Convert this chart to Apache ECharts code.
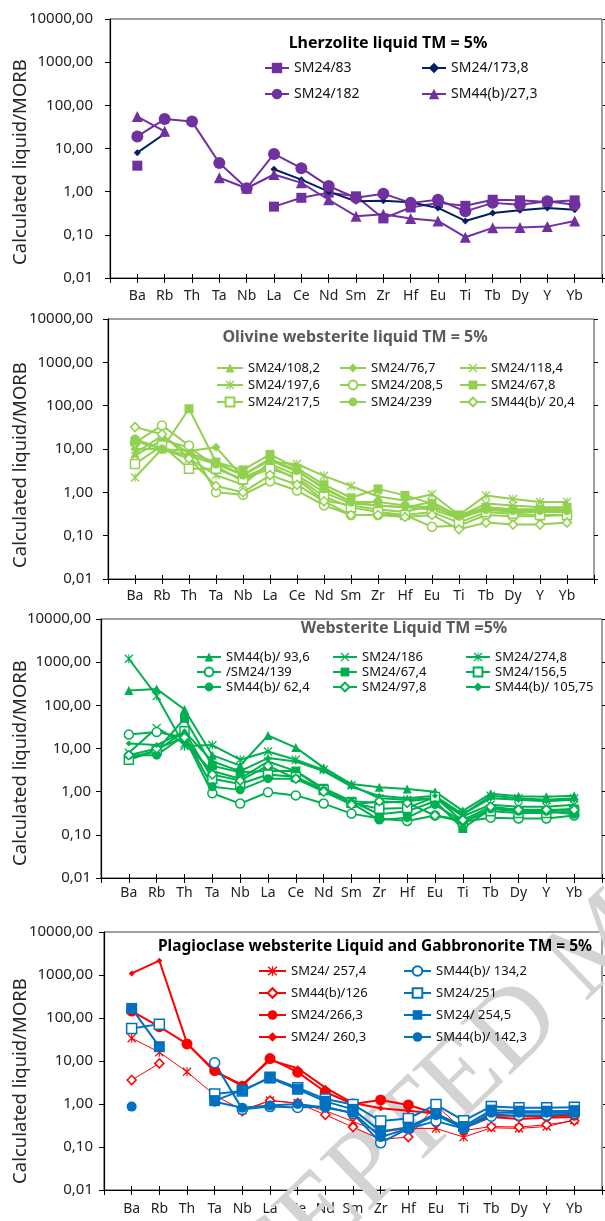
<!DOCTYPE html>
<html><head><meta charset="utf-8">
<script src="https://cdn.jsdelivr.net/npm/echarts@6/dist/echarts.min.js"></script>
<style>html,body{margin:0;padding:0;background:#fff}#c{width:605px;height:1221px}</style>
</head><body><div id="c"></div>
<script>
// ---------------- data ----------------
const ELEMENTS = ['Ba','Rb','Th','Ta','Nb','La','Ce','Nd','Sm','Zr','Hf','Eu','Ti','Tb','Dy','Y','Yb'];
const Y_TICK_LABELS = ['0,01','0,10','1,00','10,00','100,00','1000,00','10000,00'];
const Y_NAME = 'Calculated liquid/MORB';
const TITLES = ['Lherzolite liquid TM = 5%','Olivine websterite liquid TM = 5%','Websterite Liquid TM =5%','Plagioclase websterite Liquid and Gabbronorite TM = 5%'];
const WATERMARK = 'ACCEPTED MANUSCRIPT';

// Panel 1 : Lherzolite
const LHZ_NAMES = ['SM24/83','SM24/173,8','SM24/182','SM44(b)/27,3'];
const LHZ_SM24_83    = [4, null, null, null, null, 0.45, 0.72, 0.95, 0.78, 0.24, 0.43, 0.55, 0.47, 0.65, 0.63, 0.58, 0.63];
const LHZ_SM24_173_8 = [8, 22, null, null, null, 3.3, 1.9, 1.0, 0.6, 0.62, 0.57, 0.42, 0.21, 0.32, 0.37, 0.42, 0.38];
const LHZ_SM24_182   = [19, 48, 42, 4.6, 1.2, 7.5, 3.5, 1.35, 0.72, 0.9, 0.55, 0.65, 0.35, 0.55, 0.5, 0.6, 0.5];
const LHZ_SM44B_27_3 = [55, 25, null, 2.1, 1.2, 2.5, 1.6, 0.65, 0.27, 0.3, 0.24, 0.21, 0.088, 0.145, 0.148, 0.155, 0.21];

// Panel 2 : Olivine websterite
const OWS_NAMES = ['SM24/108,2','SM24/76,7','SM24/118,4','SM24/197,6','SM24/208,5','SM24/67,8','SM24/217,5','SM24/239','SM44(b)/ 20,4'];
const OWS_SM24_108_2 = [8, 20, 8, 5, 2.5, 5.5, 3, 1.3, 0.6, 0.5, 0.45, 0.4, 0.25, 0.45, 0.4, 0.4, 0.4];
const OWS_SM24_76_7  = [10, 10, 9, 11, 2.2, 4, 2, 0.65, 0.5, 0.4, 0.35, 0.5, 0.25, 0.4, 0.35, 0.35, 0.35];
const OWS_SM24_118_4 = [7, 16, 11, 4, 1.8, 4.5, 2.5, 1.0, 0.55, 0.5, 0.45, 0.6, 0.28, 0.55, 0.5, 0.45, 0.45];
const OWS_SM24_197_6 = [2.2, 10, 6, 2.5, 1.5, 5, 4.5, 2.4, 1.4, 0.8, 0.65, 0.9, 0.3, 0.85, 0.7, 0.6, 0.6];
const OWS_SM24_208_5 = [14, 35, 12, 1.0, 0.88, 1.8, 1.1, 0.5, 0.3, 0.3, 0.3, 0.16, 0.17, 0.3, 0.28, 0.28, 0.3];
const OWS_SM24_67_8  = [15, 10, 85, 5, 3.3, 7.5, 3.6, 1.5, 0.75, 1.2, 0.85, 0.55, 0.3, 0.45, 0.4, 0.4, 0.45];
const OWS_SM24_217_5 = [4.5, 12, 3.5, 3.5, 2.0, 3.5, 2.2, 0.8, 0.45, 0.35, 0.3, 0.35, 0.2, 0.35, 0.32, 0.3, 0.3];
const OWS_SM24_239   = [17, 10, 7, 4.5, 2.5, 6, 3.2, 1.2, 0.6, 0.6, 0.5, 0.45, 0.28, 0.4, 0.38, 0.38, 0.38];
const OWS_SM44B_20_4 = [32, 22, 6, 1.4, 1.0, 2.5, 1.5, 0.62, 0.3, 0.3, 0.27, 0.3, 0.14, 0.2, 0.18, 0.18, 0.2];

// Panel 3 : Websterite
const WS_NAMES = ['SM44(b)/ 93,6','SM24/186','SM24/274,8','/SM24/139','SM24/67,4','SM24/156,5','SM44(b)/ 62,4','SM24/97,8','SM44(b)/ 105,75'];
const WS_SM44B_93_6   = [220, 240, 80, 7, 4, 20, 10.5, 3.6, 1.5, 1.27, 1.15, 1.0, 0.36, 0.9, 0.78, 0.76, 0.8];
const WS_SM24_186     = [8, 30, 13, 3, 2, 5, 3, 1.1, 0.6, 0.55, 0.6, 0.7, 0.27, 0.5, 0.45, 0.45, 0.5];
const WS_SM24_274_8   = [1200, 165, 11.5, 12, 5.5, 8.5, 5.5, 3.2, 1.4, 0.7, 0.65, 0.7, 0.3, 0.8, 0.7, 0.65, 0.7];
const WS_SM24_139     = [21, 24, 18, 0.92, 0.53, 0.97, 0.82, 0.53, 0.31, 0.24, 0.21, 0.28, 0.2, 0.25, 0.24, 0.24, 0.28];
const WS_SM24_67_4    = [6, 9, 50, 4, 2.8, 3, 3, 1.2, 0.6, 0.3, 0.35, 0.6, 0.14, 0.4, 0.36, 0.36, 0.4];
const WS_SM24_156_5   = [5.5, 9, 25, 2, 1.5, 2.5, 2.2, 1.1, 0.55, 0.4, 0.42, 0.75, 0.2, 0.35, 0.32, 0.32, 0.35];
const WS_SM44B_62_4   = [7, 7, 20, 1.3, 1.1, 2, 2, 1.05, 0.55, 0.22, 0.25, 0.5, 0.2, 0.4, 0.35, 0.35, 0.3];
const WS_SM24_97_8    = [7, 10, 18, 2.5, 1.8, 4, 2, 1.0, 0.5, 0.6, 0.55, 0.28, 0.22, 0.45, 0.38, 0.38, 0.38];
const WS_SM44B_105_75 = [13, 12, 25, 5, 3, 6, 5, 3, 1.3, 0.8, 0.7, 0.8, 0.3, 0.7, 0.65, 0.6, 0.65];

// Panel 4 : Plagioclase websterite and Gabbronorite
const PWG_NAMES = ['SM24/ 257,4','SM44(b)/126','SM24/266,3','SM24/ 260,3','SM44(b)/ 134,2','SM24/251','SM24/ 254,5','SM44(b)/ 142,3'];
const PWG_SM24_257_4  = [34, 16, 5.6, 1.6, 0.72, 1.2, 1.05, 0.7, 0.39, 0.22, 0.27, 0.27, 0.17, 0.28, 0.27, 0.3, 0.42];
const PWG_SM44B_126   = [3.6, 8.8, null, null, 0.68, 1.2, 1.05, 0.56, 0.29, 0.15, 0.17, 0.95, 0.24, 0.3, 0.29, 0.33, 0.41];
const PWG_SM24_266_3  = [145, 63, 25, 6, 2.6, 11.4, 5.5, 1.9, 1.0, 1.24, 0.95, 0.6, 0.27, 0.58, 0.52, 0.52, 0.55];
const PWG_SM24_260_3  = [1090, 2150, 26, 5.6, 2.8, 10.5, 6.8, 2.4, 1.05, 0.8, 0.7, 0.6, 0.28, 0.5, 0.45, 0.48, 0.5];
const PWG_SM44B_134_2 = [null, null, null, 9.1, 0.75, 0.87, 0.83, 0.87, 0.6, 0.125, 0.27, 0.4, 0.27, 0.52, 0.55, 0.55, 0.6];
const PWG_SM24_251    = [57, 72, null, 1.7, 2.0, 4.2, 2.4, 1.3, 0.97, 0.4, 0.46, 0.97, 0.41, 0.88, 0.82, 0.82, 0.84];
const PWG_SM24_254_5  = [167, 21.5, null, 1.2, 2.1, 4.0, 2.2, 1.15, 0.75, 0.23, 0.29, 0.6, 0.3, 0.72, 0.68, 0.68, 0.7];
const PWG_SM44B_142_3 = [0.87, null, null, 1.13, 0.82, 0.92, 1.0, 0.82, 0.63, 0.17, 0.27, 0.55, 0.27, 0.63, 0.63, 0.63, 0.63];

// ---------------- styling / layout ----------------
const FONT = 'Noto Sans';
const PURPLE = '#7030A0', NAVY = '#002060', LGREEN = '#92D050', GREEN = '#00B050', RED = '#FF0000', BLUE = '#0070C0';
const X_PATH = 'path://M0,1L1,0L5,4L9,0L10,1L6,5L10,9L9,10L5,6L1,10L0,9L4,5Z';
const STAR_PATH = 'path://M0,1L1,0L5,4L9,0L10,1L6,5L10,9L9,10L5,6L1,10L0,9L4,5Z M4.4,0L5.6,0L5.6,10L4.4,10Z';
const SYM = {sq:'rect', osq:'rect', ci:'circle', oci:'circle', tri:'triangle', dia:'diamond', odia:'diamond', x:X_PATH, star:STAR_PATH};

const PANELS = [
  {grid:{left:110, top:19, width:493, height:259}, labelMargin:11, yMargin:17, titleXY:[388,43], titleColor:'#000', titleSize:16, nameY:162,
   legend:{cols:[[264,[0,2]],[421,[1,3]]], rows:[68,94], w:24, h:13, fs:14}},
  {grid:{left:108, top:319, width:486, height:260}, labelMargin:10, yMargin:15, titleXY:[355,337], titleColor:'#595959', titleSize:16, nameY:465,
   legend:{cols:[[216,[0,3,6]],[339,[1,4,7]],[459,[2,5,8]]], rows:[368,385,402], w:26, h:11, fs:13}},
  {grid:{left:101, top:619, width:501, height:259}, labelMargin:8, yMargin:10, titleXY:[404,628], titleColor:'#595959', titleSize:16, nameY:763,
   legend:{cols:[[196,[0,3,6]],[332,[1,4,7]],[465,[2,5,8]]], rows:[657,672,687], w:24, h:11, fs:13}},
  {grid:{left:104, top:932, width:499, height:258}, labelMargin:12, yMargin:11, titleXY:[375,947], titleColor:'#000', titleSize:15.5, nameY:1081,
   legend:{cols:[[258,[0,1,2,3]],[403,[4,5,6,7]]], rows:[971,993,1015,1037], w:27, h:12, fs:13}}
];

function mk(name, vals, p, color, kind, size, lw) {
  const open = kind.charAt(0) === 'o';
  return {
    type:'line', name:name, xAxisIndex:p, yAxisIndex:p,
    data: vals.map((v, i) => [i + 1, v]),
    symbol: SYM[kind], symbolSize: size, connectNulls:false,
    lineStyle:{color:color, width:lw},
    itemStyle:{color: open ? '#fff' : color, borderColor: color, borderWidth: open ? 1.5 : 0},
    emphasis:{disabled:true}, silent:true, z:3
  };
}

const SERIES = [
  [ mk(LHZ_NAMES[0], LHZ_SM24_83, 0, PURPLE, 'sq', 10, 2),
    mk(LHZ_NAMES[1], LHZ_SM24_173_8, 0, NAVY, 'dia', 7, 2),
    mk(LHZ_NAMES[2], LHZ_SM24_182, 0, PURPLE, 'ci', 12, 2),
    mk(LHZ_NAMES[3], LHZ_SM44B_27_3, 0, PURPLE, 'tri', 11, 2) ],
  [ mk(OWS_NAMES[0], OWS_SM24_108_2, 1, LGREEN, 'tri', 9, 2),
    mk(OWS_NAMES[1], OWS_SM24_76_7, 1, LGREEN, 'dia', 9, 2),
    mk(OWS_NAMES[2], OWS_SM24_118_4, 1, LGREEN, 'x', 9, 2),
    mk(OWS_NAMES[3], OWS_SM24_197_6, 1, LGREEN, 'star', 9, 2),
    mk(OWS_NAMES[4], OWS_SM24_208_5, 1, LGREEN, 'oci', 9, 2),
    mk(OWS_NAMES[5], OWS_SM24_67_8, 1, LGREEN, 'sq', 9, 2),
    mk(OWS_NAMES[6], OWS_SM24_217_5, 1, LGREEN, 'osq', 9, 2),
    mk(OWS_NAMES[7], OWS_SM24_239, 1, LGREEN, 'ci', 9, 2),
    mk(OWS_NAMES[8], OWS_SM44B_20_4, 1, LGREEN, 'odia', 9, 2) ],
  [ mk(WS_NAMES[0], WS_SM44B_93_6, 2, GREEN, 'tri', 9, 2),
    mk(WS_NAMES[1], WS_SM24_186, 2, GREEN, 'x', 9, 2),
    mk(WS_NAMES[2], WS_SM24_274_8, 2, GREEN, 'star', 9, 2),
    mk(WS_NAMES[3], WS_SM24_139, 2, GREEN, 'oci', 9, 2),
    mk(WS_NAMES[4], WS_SM24_67_4, 2, GREEN, 'sq', 9, 2),
    mk(WS_NAMES[5], WS_SM24_156_5, 2, GREEN, 'osq', 9, 2),
    mk(WS_NAMES[6], WS_SM44B_62_4, 2, GREEN, 'ci', 9, 2),
    mk(WS_NAMES[7], WS_SM24_97_8, 2, GREEN, 'odia', 9, 2),
    mk(WS_NAMES[8], WS_SM44B_105_75, 2, GREEN, 'dia', 6, 2) ],
  [ mk(PWG_NAMES[0], PWG_SM24_257_4, 3, RED, 'star', 9, 1),
    mk(PWG_NAMES[1], PWG_SM44B_126, 3, RED, 'odia', 9, 1),
    mk(PWG_NAMES[2], PWG_SM24_266_3, 3, RED, 'ci', 11, 2),
    mk(PWG_NAMES[3], PWG_SM24_260_3, 3, RED, 'dia', 6, 2),
    mk(PWG_NAMES[4], PWG_SM44B_134_2, 3, BLUE, 'oci', 10, 2),
    mk(PWG_NAMES[5], PWG_SM24_251, 3, BLUE, 'osq', 10, 2),
    mk(PWG_NAMES[6], PWG_SM24_254_5, 3, BLUE, 'sq', 11, 2),
    mk(PWG_NAMES[7], PWG_SM44B_142_3, 3, BLUE, 'ci', 10, 2) ]
];

const grids = [], xAxes = [], yAxes = [], xInner = [], yInner = [], legends = [], graphics = [];
PANELS.forEach((P, p) => {
  grids.push(Object.assign({show:true, borderColor:'#404040', borderWidth:1}, P.grid));
  xAxes.push({
    type:'value', gridIndex:p, min:0, max:18, interval:1,
    axisLine:{show:true, onZero:false, lineStyle:{color:'#000', width:1.2}},
    axisTick:{show:true, length:5, lineStyle:{color:'#000', width:1}},
    axisLabel:{margin:P.labelMargin, color:'#222', fontFamily:FONT, fontSize:14,
               formatter: v => ELEMENTS[Math.round(v) - 1] || ''},
    splitLine:{show:false}
  });
  yAxes.push({
    type:'log', gridIndex:p, min:0.01, max:10000, logBase:10, splitNumber:6,
    axisLine:{show:true, lineStyle:{color:'#000', width:1.2}},
    axisTick:{show:true, length:5, lineStyle:{color:'#000', width:1}},
    axisLabel:{margin:P.yMargin, color:'#222', fontFamily:FONT, fontSize:15,
               formatter: v => Y_TICK_LABELS[Math.round(Math.log10(v)) + 2]},
    splitLine:{show:false}, minorTick:{show:false}
  });
  // inner halves of the crossing tick marks (same scales, drawn on the opposite side)
  xInner.push({
    type:'value', gridIndex:p, min:0, max:18, interval:1, position:'top', offset:-P.grid.height,
    axisLine:{show:false}, axisLabel:{show:false}, splitLine:{show:false},
    axisTick:{show:true, length:4, lineStyle:{color:'#000', width:1}}
  });
  yInner.push({
    type:'log', gridIndex:p, min:0.01, max:10000, logBase:10, splitNumber:6, position:'right', offset:-P.grid.width,
    axisLine:{show:false}, axisLabel:{show:false}, splitLine:{show:false}, minorTick:{show:false},
    axisTick:{show:true, length:4, lineStyle:{color:'#000', width:1}}
  });
  const L = P.legend;
  const names = SERIES[p].map(s => s.name);
  L.cols.forEach(([x, idxs]) => {
    idxs.forEach((si, r) => {
      const hh = Math.max(L.h, L.fs);
      legends.push({
        data:[names[si]], left:x, top:L.rows[r] - hh / 2, padding:0, orient:'horizontal',
        itemWidth:L.w, itemHeight:L.h, selectedMode:false,
        textStyle:{fontFamily:FONT, fontSize:L.fs, color:'#111'}
      });
    });
  });
  graphics.push({type:'text', x:P.titleXY[0], y:P.titleXY[1], z:10,
    style:{text:TITLES[p], fill:P.titleColor, font:'bold ' + P.titleSize + 'px "' + FONT + '"', textAlign:'center', textVerticalAlign:'middle'}});
  graphics.push({type:'text', x:21, y:P.nameY, rotation:Math.PI / 2, z:10,
    style:{text:Y_NAME, fill:'#262626', font:'18.5px "' + FONT + '"', textAlign:'center', textVerticalAlign:'middle'}});
});

// watermark (diagonal, letters laid out along the baseline)
(function () {
  const W = {A:.722, C:.667, E:.611, P:.556, T:.611, D:.722, ' ':.25, M:.889, N:.722, U:.722, S:.556, R:.667, I:.333};
  const f = 110, ang = 44 * Math.PI / 180, ox = 136, oy = 1396;
  let d = 0;
  for (const ch of WATERMARK) {
    const w = (W[ch] || .6) * f;
    const c = d + w / 2;
    if (ch !== ' ') {
      graphics.push({type:'text', x: ox + c * Math.cos(ang), y: oy - c * Math.sin(ang), rotation: ang, z:1, silent:true,
        style:{text:ch, fill:'#d3d3d3', font: f + 'px "Liberation Serif"', textAlign:'center', textVerticalAlign:'middle'}});
    }
    d += w;
  }
})();

const chart = echarts.init(document.getElementById('c'), null, {renderer:'canvas'});
chart.setOption({
  animation:false,
  backgroundColor:'#fff',
  grid:grids, xAxis:xAxes.concat(xInner), yAxis:yAxes.concat(yInner), legend:legends,
  graphic:{elements:graphics},
  series:[].concat(...SERIES)
});
</script></body></html>
